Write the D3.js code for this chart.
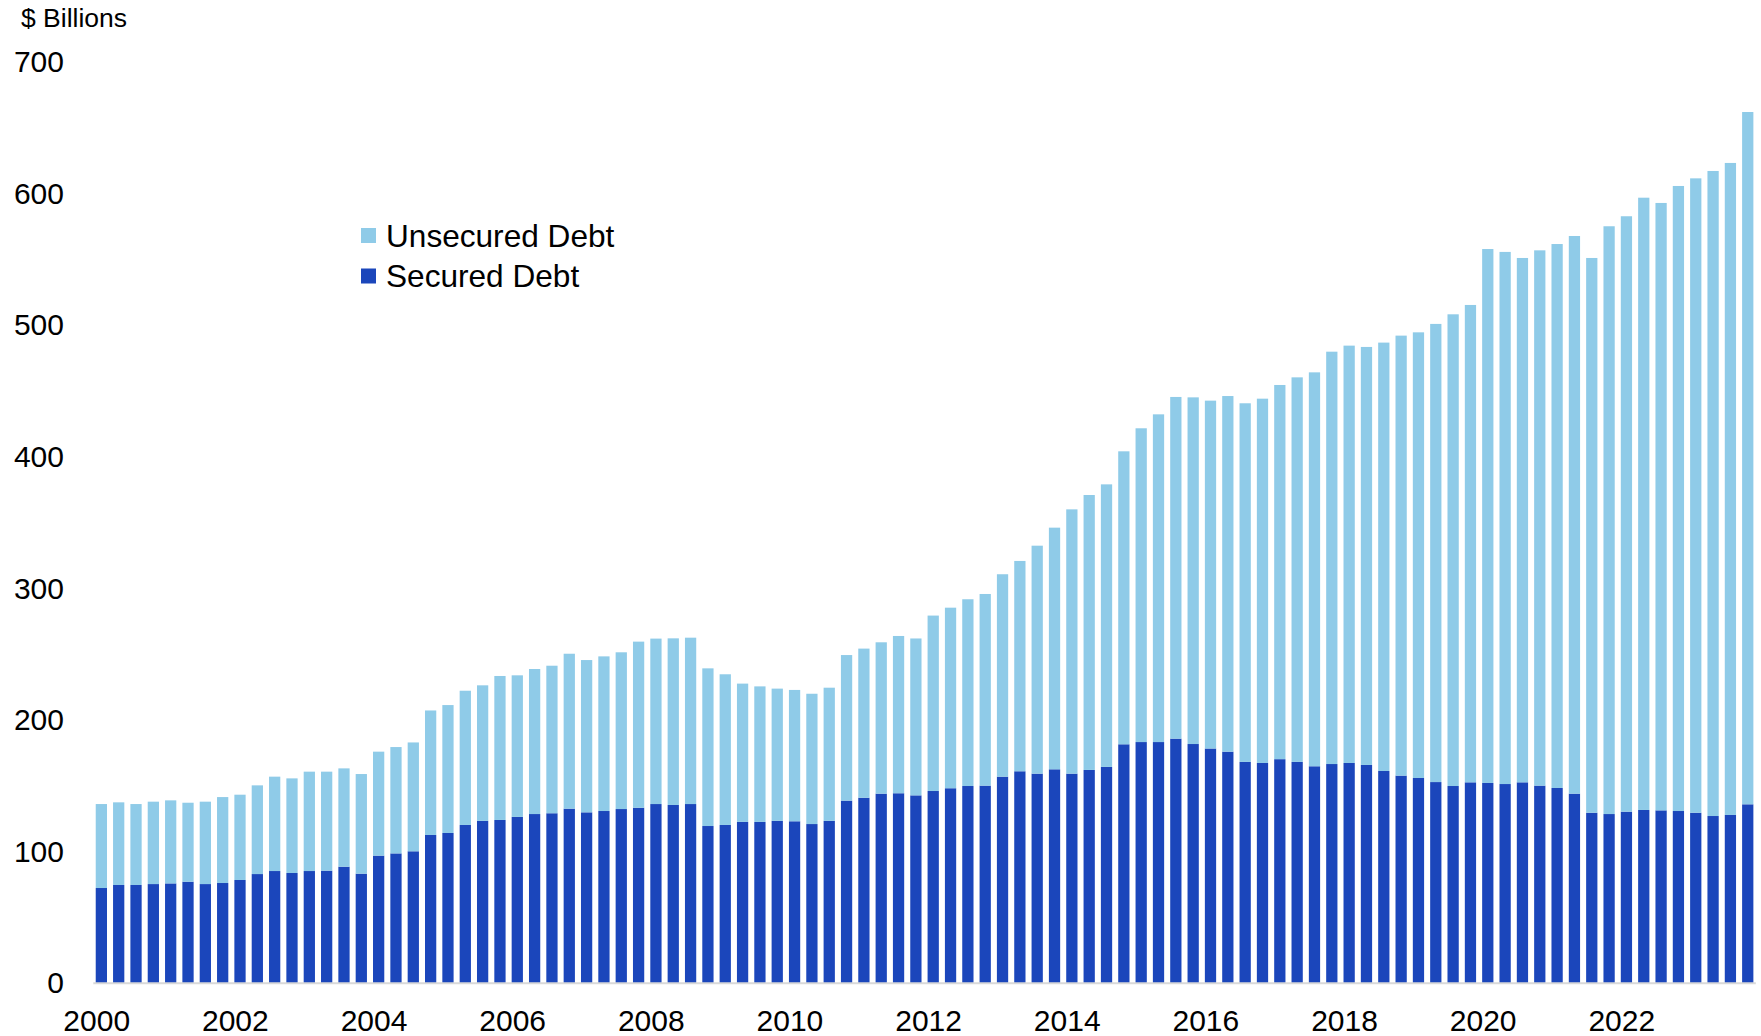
<!DOCTYPE html>
<html lang="en">
<head>
    <meta charset="UTF-8">
    <title>Secured and Unsecured Debt</title>
    <style>
        body { margin: 0; background: #fff; }
        svg text { font-family: "Liberation Sans", Arial, sans-serif; fill: #000; }
    </style>
</head>
<body>
<script src="https://cdn.jsdelivr.net/npm/d3@7"></script>
<script>
    // Quarterly categories, 2000Q1 .. 2023Q4
    const years = d3.range(2000, 2024);
    const quarters = years.flatMap(y => ["Q1", "Q2", "Q3", "Q4"].map(q => y + q));

    // $ billions
    const securedDebt = [
        72.4, 74.7, 74.7, 75.4, 75.9, 77.2, 75.4, 76.2, 78.5, 83.0, 85.3, 83.8,
        85.3, 85.6, 88.6, 83.3, 97.0, 98.7, 100.3, 112.7, 114.2, 120.3, 123.4, 124.1,
        126.4, 128.6, 129.2, 132.7, 129.9, 130.9, 132.4, 133.4, 136.2, 135.5, 136.2, 119.5,
        120.3, 122.6, 122.6, 123.4, 123.1, 121.0, 123.4, 138.8, 141.0, 144.1, 144.4, 142.8,
        146.1, 148.2, 149.9, 150.2, 157.0, 161.1, 159.3, 162.6, 159.3, 162.1, 164.4, 181.6,
        183.3, 183.3, 185.9, 181.8, 178.4, 176.0, 168.2, 167.4, 170.3, 168.2, 164.9, 166.6,
        167.4, 165.9, 161.3, 157.8, 156.0, 152.9, 149.9, 152.7, 152.2, 151.4, 152.7, 150.2,
        148.4, 144.1, 129.6, 128.6, 130.4, 131.7, 131.4, 130.9, 129.6, 127.1, 127.9, 136.0
    ];
    const unsecuredDebt = [
        63.8, 62.8, 61.5, 62.6, 63.1, 60.0, 62.6, 65.3, 64.8, 67.4, 71.7, 71.9,
        75.5, 75.2, 74.7, 75.7, 79.0, 80.8, 82.7, 94.6, 97.2, 102.0, 103.0, 109.4,
        107.6, 110.2, 112.1, 117.7, 115.7, 117.5, 119.1, 126.2, 125.7, 126.6, 126.4, 119.8,
        114.5, 105.1, 103.0, 100.5, 99.8, 99.0, 101.2, 110.6, 113.3, 115.0, 119.5, 119.2,
        133.3, 137.2, 141.9, 145.6, 153.8, 159.8, 173.2, 183.6, 200.8, 208.9, 214.7, 222.6,
        238.4, 249.0, 259.6, 263.4, 264.3, 270.2, 272.5, 276.8, 284.3, 292.2, 299.3, 313.3,
        317.1, 317.6, 325.5, 334.3, 338.6, 348.1, 358.4, 362.7, 405.7, 404.3, 398.4, 406.7,
        413.3, 423.7, 421.5, 446.6, 452.4, 465.2, 461.5, 474.9, 482.0, 490.1, 495.4, 526.0
    ];

    const yTicks = [0, 100, 200, 300, 400, 500, 600, 700];
    const xTickYears = ["2000", "2002", "2004", "2006", "2008", "2010", "2012", "2014", "2016", "2018", "2020", "2022"];
    const seriesNames = ["Secured Debt", "Unsecured Debt"];
    const colors = {"Secured Debt": "#1b46bb", "Unsecured Debt": "#8fcbe8"};

    const width = 1761, height = 1036;

    const table = quarters.map((q, i) => ({
        quarter: q,
        "Secured Debt": securedDebt[i],
        "Unsecured Debt": unsecuredDebt[i]
    }));
    const stacked = d3.stack().keys(seriesNames)(table);

    const xScale = d3.scaleBand().domain(quarters).range([93.3, 1755.8])
        .paddingInner(0.35).paddingOuter(0.14);
    const yScale = d3.scaleLinear().domain([0, 700]).range([983.3, 62]);

    const svg = d3.select("body").append("svg")
        .attr("width", width)
        .attr("height", height);

    // bars
    svg.append("g")
        .selectAll("g")
        .data(stacked)
        .join("g")
            .attr("fill", d => colors[d.key])
        .selectAll("rect")
        .data(d => d)
        .join("rect")
            .attr("x", d => xScale(d.data.quarter))
            .attr("y", d => yScale(d[1]))
            .attr("width", xScale.bandwidth())
            .attr("height", d => yScale(d[0]) - yScale(d[1]));

    // baseline
    svg.append("line")
        .attr("x1", xScale.range()[0]).attr("x2", xScale.range()[1])
        .attr("y1", yScale(0)).attr("y2", yScale(0))
        .attr("stroke", "#d9d9d9").attr("stroke-width", 2);

    // y axis
    const yAxis = svg.append("g")
        .attr("transform", "translate(64,0)")
        .call(d3.axisLeft(yScale).tickValues(yTicks).tickSize(0).tickPadding(0));
    yAxis.select(".domain").remove();
    yAxis.selectAll("text")
        .attr("font-size", 30)
        .attr("font-family", "Liberation Sans, Arial, sans-serif");

    // x axis, labels sit at the left edge of each year's first bar
    const xAxis = svg.append("g")
        .attr("transform", `translate(${1 - xScale.bandwidth() / 2},${yScale(0)})`)
        .call(d3.axisBottom(xScale)
            .tickValues(xTickYears.map(y => y + "Q1"))
            .tickFormat(d => d.slice(0, 4))
            .tickSize(0).tickPadding(0));
    xAxis.select(".domain").remove();
    xAxis.selectAll("text")
        .attr("dy", null)
        .attr("y", 47.5)
        .attr("font-size", 30)
        .attr("font-family", "Liberation Sans, Arial, sans-serif");

    // units label
    svg.append("text")
        .attr("x", 21)
        .attr("y", 27)
        .attr("font-size", 26.5)
        .text("$ Billions");

    // legend
    const legend = svg.append("g").attr("transform", "translate(361,228)");
    const legendRows = legend.selectAll("g")
        .data(["Unsecured Debt", "Secured Debt"])
        .join("g")
            .attr("transform", (d, i) => `translate(0,${i * 40.5})`);
    legendRows.append("rect")
        .attr("width", 15).attr("height", 15)
        .attr("fill", d => colors[d]);
    legendRows.append("text")
        .attr("x", 25)
        .attr("y", 7.5)
        .attr("dy", "0.36em")
        .attr("font-size", 31.6)
        .text(d => d);
</script>
</body>
</html>
